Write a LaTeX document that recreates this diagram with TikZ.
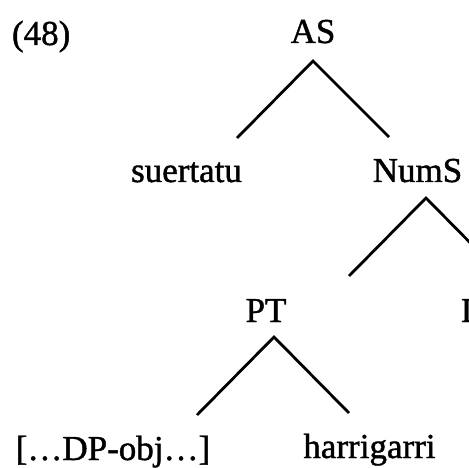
\documentclass[tikz,border=0pt]{standalone}
\usepackage{fontspec}
\setmainfont{Liberation Serif}[FakeBold=1.2]
\newfontfamily\scanfont{Liberation Serif}[FakeBold=1.2]
\begin{document}
\begin{tikzpicture}[x=1pt,y=-1pt,
  lbl/.style={inner sep=0pt,outer sep=0pt,anchor=base,font=\scanfont\fontsize{35}{40}\selectfont},
  branch/.style={line width=2.8pt,line join=miter,line cap=butt}]
\fill[white] (0,0) rectangle (469,468);
\useasboundingbox (0,0) rectangle (469,468);
\begin{scope}
\clip (0,0) rectangle (469,468);
% labels
\node[lbl,anchor=base west] (ex) at (12,45) {(48)};
\node[lbl] (AS) at (313,43) {AS};
\node[lbl] (suer) at (186.5,182) {suertatu};
\node[lbl] (NumS) at (417.5,182) {NumS};
\node[lbl] (PT) at (266,322) {PT};
\node[lbl] (DP) at (113,460) {[\ldots DP-obj\ldots]};
\node[lbl] (harr) at (369.5,458) {harrigarri};
\node[lbl,anchor=base west] (cut) at (461,322) {D};
% branch points
\coordinate (ASa) at (313,61);
\coordinate (ASl) at (237,138);
\coordinate (ASr) at (389,137);
\coordinate (NSa) at (426,198);
\coordinate (NSl) at (349,276);
\coordinate (NSr) at (504,277);
\coordinate (PTa) at (274,337);
\coordinate (PTl) at (197,415);
\coordinate (PTr) at (349,413);
\draw[branch] (ASl) -- (ASa) -- (ASr);
\draw[branch] (NSl) -- (NSa) -- (NSr);
\draw[branch] (PTl) -- (PTa) -- (PTr);
\end{scope}
\end{tikzpicture}
\end{document}
